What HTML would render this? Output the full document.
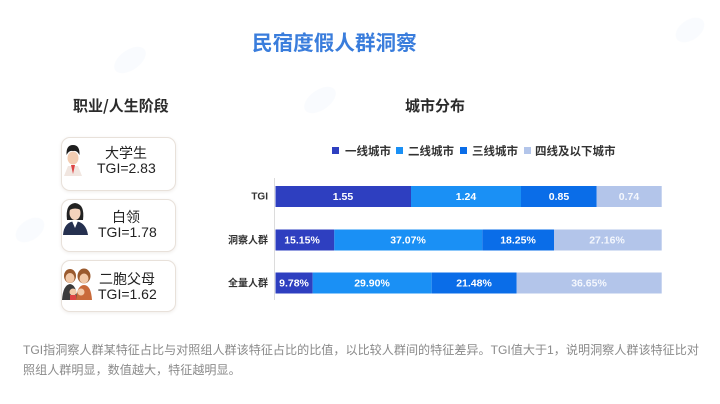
<!DOCTYPE html>
<html><head><meta charset="utf-8">
<style>
html,body{margin:0;padding:0;background:#fff;}
#root{position:relative;width:720px;height:404px;overflow:hidden;background:#fff;font-family:"Liberation Sans","Noto Sans CJK SC",sans-serif;}
.t{position:absolute;white-space:nowrap;}
.card{position:absolute;left:61px;width:113px;background:#fff;border:1px solid #e8e1da;border-radius:9px;box-shadow:0 1px 3px rgba(120,100,80,0.12);}
.cn{font-family:"Noto Sans CJK SC",sans-serif;}
</style></head><body><div id="root">
<svg class="t" style="left:0;top:0" width="720" height="404">
<g fill="#f3f7fc" opacity="0.5">
<ellipse cx="130" cy="60" rx="18" ry="10" transform="rotate(-35 130 60)"/>
<ellipse cx="320" cy="100" rx="18" ry="10" transform="rotate(-35 320 100)"/>
<ellipse cx="30" cy="230" rx="16" ry="10" transform="rotate(-35 30 230)"/>
<ellipse cx="690" cy="30" rx="16" ry="10" transform="rotate(-35 690 30)"/>
</g>
</svg>

<div class="t cn" style="left:252px;top:28px;font-size:20.6px;line-height:26px;font-weight:bold;color:#3a7ddc;">民宿度假人群洞察</div>
<div class="t cn" style="left:73px;top:96px;font-size:15px;line-height:20px;font-weight:bold;color:#2b2b2b;">职业/人生阶段</div>
<div class="t cn" style="left:405px;top:96px;font-size:15px;line-height:20px;font-weight:bold;color:#2b2b2b;">城市分布</div>

<div class="card" style="top:137px;height:52px;"></div>
<div class="card" style="top:199px;height:51px;"></div>
<div class="card" style="top:260px;height:50px;"></div>

<div class="t cn" style="left:98px;width:56px;text-align:center;top:144px;font-size:14px;line-height:18px;color:#222;">大学生</div>
<div class="t" style="left:97px;top:159px;font-size:14px;line-height:18px;color:#222;">TGI=2.83</div>
<div class="t cn" style="left:98px;width:56px;text-align:center;top:208px;font-size:14px;line-height:18px;color:#222;">白领</div>
<div class="t" style="left:98px;top:223px;font-size:14px;line-height:18px;color:#222;">TGI=1.78</div>
<div class="t cn" style="left:99px;top:270px;font-size:14px;line-height:18px;color:#222;">二胞父母</div>
<div class="t" style="left:98px;top:285px;font-size:14px;line-height:18px;color:#222;">TGI=1.62</div>

<svg class="t" style="left:60px;top:140px" width="36" height="170">
 <path d="M8 26 L18 26 L22 36 L4 36 Z" fill="#f1e6e0"/>
 <path d="M11 25 L13 34 L15 25 Z" fill="#d44"/>
 <ellipse cx="13" cy="18" rx="5.5" ry="6.5" fill="#f3cdb2"/>
 <path d="M6.5 15 Q6 5 13 5 Q20 5 19.5 15 Q17 10 13 11 Q9 10 6.5 15 Z" fill="#1e1e1e"/>
 <path d="M3 95 Q4 82 15 81 Q26 82 28 95 Z" fill="#25304f"/>
 <path d="M12 81 L15 88 L18 81 Z" fill="#fff"/>
 <path d="M7 80 Q5 64 15 63 Q25 64 23 80 Z" fill="#222"/>
 <ellipse cx="15" cy="73" rx="5.5" ry="7" fill="#f4d3bd"/>
 <path d="M9.5 70 Q11 64 15 64 Q20 64 21 70 Q15 67 9.5 70 Z" fill="#222"/>
 <ellipse cx="10" cy="136" rx="6" ry="7" fill="#9a5a2e"/>
 <ellipse cx="10" cy="138" rx="4.5" ry="5" fill="#f2c9a8"/>
 <ellipse cx="24" cy="136" rx="6.5" ry="7.5" fill="#9a5a2e"/>
 <ellipse cx="24" cy="138.5" rx="4.5" ry="5" fill="#f2c9a8"/>
 <path d="M2 160 Q3 145 10 144 Q17 145 17 160 Z" fill="#3b3b3b"/>
 <path d="M16 160 Q17 145 24 145 Q31 145 32 160 Z" fill="#c96a3a"/>
 <circle cx="13" cy="152" r="3.5" fill="#f2c9a8"/>
 <circle cx="21" cy="152" r="3.5" fill="#f2c9a8"/>
 <path d="M10 160 L10 155 L16 155 L16 160Z" fill="#d44"/>
</svg>

<div class="t" style="left:332px;top:147px;width:7px;height:7px;background:#2e3fc0;"></div>
<div class="t cn" style="left:345px;top:143px;font-size:11.5px;line-height:16px;font-weight:bold;color:#333;">一线城市</div>
<div class="t" style="left:396px;top:147px;width:7px;height:7px;background:#1a90f5;"></div>
<div class="t cn" style="left:408px;top:143px;font-size:11.5px;line-height:16px;font-weight:bold;color:#333;">二线城市</div>
<div class="t" style="left:460px;top:147px;width:7px;height:7px;background:#0a6de8;"></div>
<div class="t cn" style="left:472px;top:143px;font-size:11.5px;line-height:16px;font-weight:bold;color:#333;">三线城市</div>
<div class="t" style="left:524px;top:147px;width:7px;height:7px;background:#b3c5ea;"></div>
<div class="t cn" style="left:535px;top:143px;font-size:11.5px;line-height:16px;font-weight:bold;color:#333;">四线及以下城市</div>

<svg class="t" style="left:0;top:0" width="720" height="404" font-family="Liberation Sans, Noto Sans CJK SC, sans-serif">
 <line x1="274.5" y1="178" x2="274.5" y2="300" stroke="#dcdcdc" stroke-width="1"/>
 <g font-size="10" font-weight="bold" fill="#333" text-anchor="end">
  <text x="268" y="199.5">TGI</text>
  <text x="268" y="243.5" font-family="Noto Sans CJK SC, sans-serif">洞察人群</text>
  <text x="268" y="286.5" font-family="Noto Sans CJK SC, sans-serif">全量人群</text>
 </g>
 <rect x="275.5" y="186" width="135.5" height="21" fill="#2e3fc0"/>
 <rect x="411" y="186" width="110" height="21" fill="#1a90f5"/>
 <rect x="521" y="186" width="75.7" height="21" fill="#0a6de8"/>
 <rect x="596.7" y="186" width="65" height="21" fill="#b3c5ea"/>
 <rect x="275.5" y="229.5" width="58.8" height="21" fill="#2e3fc0"/>
 <rect x="334.3" y="229.5" width="148" height="21" fill="#1a90f5"/>
 <rect x="482.3" y="229.5" width="71.7" height="21" fill="#0a6de8"/>
 <rect x="554" y="229.5" width="107.7" height="21" fill="#b3c5ea"/>
 <rect x="275.5" y="272.5" width="37.2" height="21" fill="#2e3fc0"/>
 <rect x="312.7" y="272.5" width="119" height="21" fill="#1a90f5"/>
 <rect x="431.7" y="272.5" width="85" height="21" fill="#0a6de8"/>
 <rect x="516.7" y="272.5" width="145" height="21" fill="#b3c5ea"/>
 <g font-size="10.5" font-weight="bold" fill="#fff" text-anchor="middle">
  <text x="343" y="200">1.55</text>
  <text x="466" y="200">1.24</text>
  <text x="559" y="200">0.85</text>
  <text x="629" y="200" fill="#f4f7fd">0.74</text>
  <text x="302" y="243.5">15.15%</text>
  <text x="408" y="243.5">37.07%</text>
  <text x="518" y="243.5">18.25%</text>
  <text x="607" y="243.5" fill="#f4f7fd">27.16%</text>
  <text x="294" y="286.5">9.78%</text>
  <text x="372" y="286.5">29.90%</text>
  <text x="474" y="286.5">21.48%</text>
  <text x="589" y="286.5" fill="#f4f7fd">36.65%</text>
 </g>
</svg>

<div class="t" style="left:23px;top:341px;font-size:12.1px;line-height:19.5px;color:#8a8a8a;">TGI指洞察人群某特征占比与对照组人群该特征占比的比值，以比较人群间的特征差异。TGI值大于1，说明洞察人群该特征比对<br>照组人群明显，数值越大，特征越明显。</div>
</div></body></html>
